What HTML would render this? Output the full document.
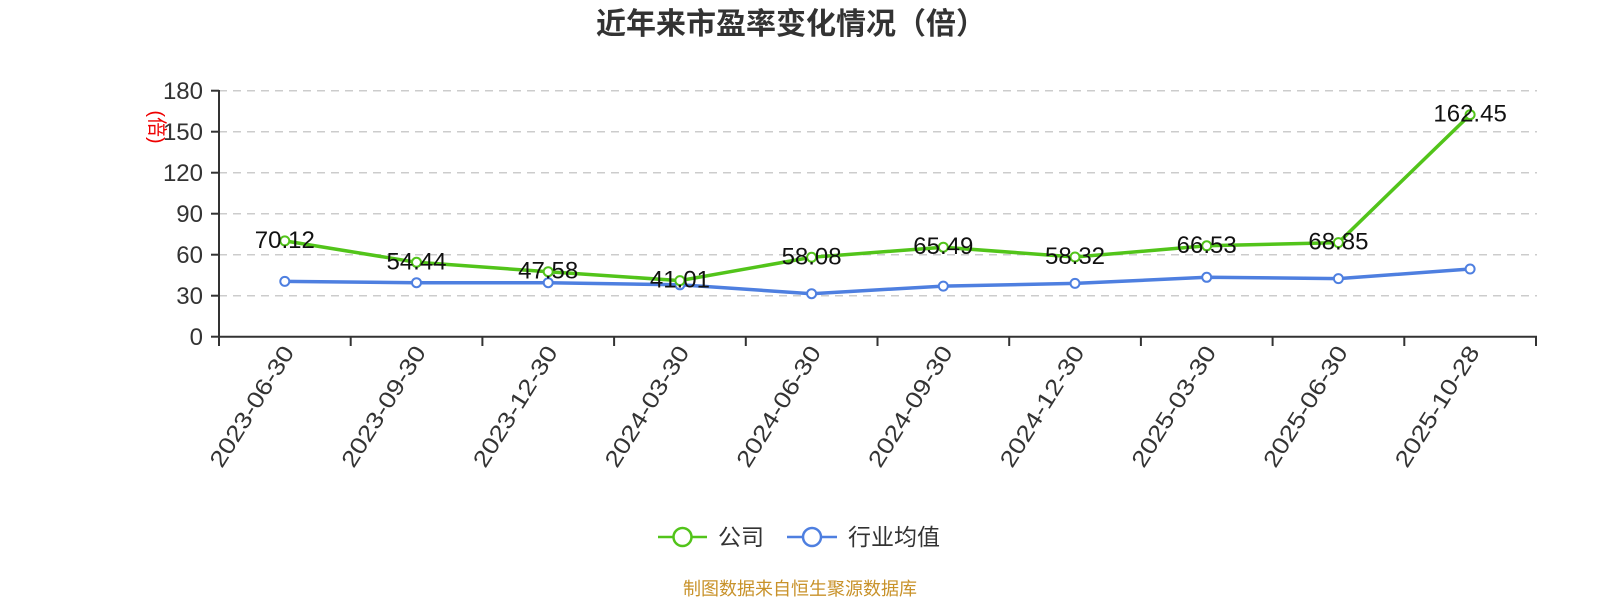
<!DOCTYPE html>
<html><head><meta charset="utf-8"><style>body{margin:0;background:#fff}svg{display:block}</style></head><body>
<svg width="1600" height="600" xmlns="http://www.w3.org/2000/svg" font-family="'Liberation Sans','Noto Sans CJK SC',sans-serif">
<text x="791" y="34" text-anchor="middle" font-size="30" font-weight="bold" fill="#333">近年来市盈率变化情况（倍）</text>
<g stroke="#ccc" stroke-width="1.5" stroke-dasharray="8,6">
<line x1="219" x2="1537" y1="90.7" y2="90.7"/><line x1="219" x2="1537" y1="131.7" y2="131.7"/><line x1="219" x2="1537" y1="172.7" y2="172.7"/><line x1="219" x2="1537" y1="213.7" y2="213.7"/><line x1="219" x2="1537" y1="254.7" y2="254.7"/><line x1="219" x2="1537" y1="295.7" y2="295.7"/>
</g>
<g stroke="#333" stroke-width="2">
<line x1="219" y1="90" x2="219" y2="337"/><line x1="219" y1="336.7" x2="1537" y2="336.7"/>
<line x1="211" x2="219" y1="90.7" y2="90.7"/><line x1="211" x2="219" y1="131.7" y2="131.7"/><line x1="211" x2="219" y1="172.7" y2="172.7"/><line x1="211" x2="219" y1="213.7" y2="213.7"/><line x1="211" x2="219" y1="254.7" y2="254.7"/><line x1="211" x2="219" y1="295.7" y2="295.7"/><line x1="211" x2="219" y1="336.7" y2="336.7"/>
<line x1="219" x2="219" y1="337" y2="346"/><line x1="350.7" x2="350.7" y1="337" y2="346"/><line x1="482.4" x2="482.4" y1="337" y2="346"/><line x1="614.1" x2="614.1" y1="337" y2="346"/><line x1="745.8" x2="745.8" y1="337" y2="346"/><line x1="877.5" x2="877.5" y1="337" y2="346"/><line x1="1009.2" x2="1009.2" y1="337" y2="346"/><line x1="1140.9" x2="1140.9" y1="337" y2="346"/><line x1="1272.6" x2="1272.6" y1="337" y2="346"/><line x1="1404.3" x2="1404.3" y1="337" y2="346"/><line x1="1536" x2="1536" y1="337" y2="346"/>
</g>
<g font-size="24" fill="#333" text-anchor="end">
<text x="203" y="99">180</text><text x="203" y="140">150</text><text x="203" y="181">120</text><text x="203" y="222">90</text><text x="203" y="263">60</text><text x="203" y="304">30</text><text x="203" y="345">0</text>
</g>
<text transform="translate(150,127) rotate(90)" font-size="20" fill="#e00" text-anchor="middle">(倍)</text>
<g font-size="23" fill="#333" text-anchor="end">
<text transform="translate(295,352) rotate(-58)" textLength="138" lengthAdjust="spacingAndGlyphs">2023-06-30</text>
<text transform="translate(426.7,352) rotate(-58)" textLength="138" lengthAdjust="spacingAndGlyphs">2023-09-30</text>
<text transform="translate(558.4,352) rotate(-58)" textLength="138" lengthAdjust="spacingAndGlyphs">2023-12-30</text>
<text transform="translate(690.1,352) rotate(-58)" textLength="138" lengthAdjust="spacingAndGlyphs">2024-03-30</text>
<text transform="translate(821.8,352) rotate(-58)" textLength="138" lengthAdjust="spacingAndGlyphs">2024-06-30</text>
<text transform="translate(953.5,352) rotate(-58)" textLength="138" lengthAdjust="spacingAndGlyphs">2024-09-30</text>
<text transform="translate(1085.2,352) rotate(-58)" textLength="138" lengthAdjust="spacingAndGlyphs">2024-12-30</text>
<text transform="translate(1216.9,352) rotate(-58)" textLength="138" lengthAdjust="spacingAndGlyphs">2025-03-30</text>
<text transform="translate(1348.6,352) rotate(-58)" textLength="138" lengthAdjust="spacingAndGlyphs">2025-06-30</text>
<text transform="translate(1480.3,352) rotate(-58)" textLength="138" lengthAdjust="spacingAndGlyphs">2025-10-28</text>
</g>
<polyline fill="none" stroke="#4e7fe0" stroke-width="3.5" points="284.8,281.4 416.5,282.7 548.2,282.7 679.9,284.8 811.6,293.7 943.3,286.1 1075,283.4 1206.7,277.3 1338.4,278.6 1470.1,269"/>
<g fill="#fff" stroke="#4e7fe0" stroke-width="2">
<circle cx="284.8" cy="281.4" r="4.5"/><circle cx="416.5" cy="282.7" r="4.5"/><circle cx="548.2" cy="282.7" r="4.5"/><circle cx="679.9" cy="284.8" r="4.5"/><circle cx="811.6" cy="293.7" r="4.5"/><circle cx="943.3" cy="286.1" r="4.5"/><circle cx="1075" cy="283.4" r="4.5"/><circle cx="1206.7" cy="277.3" r="4.5"/><circle cx="1338.4" cy="278.6" r="4.5"/><circle cx="1470.1" cy="269" r="4.5"/>
</g>
<polyline fill="none" stroke="#52c41a" stroke-width="3.5" points="284.8,240.9 416.5,262.3 548.2,271.7 679.9,280.6 811.6,257.3 943.3,247.2 1075,257 1206.7,245.8 1338.4,242.6 1470.1,114.7"/>
<g fill="#fff" stroke="#52c41a" stroke-width="2">
<circle cx="284.8" cy="240.9" r="4.5"/><circle cx="416.5" cy="262.3" r="4.5"/><circle cx="548.2" cy="271.7" r="4.5"/><circle cx="679.9" cy="280.6" r="4.5"/><circle cx="811.6" cy="257.3" r="4.5"/><circle cx="943.3" cy="247.2" r="4.5"/><circle cx="1075" cy="257" r="4.5"/><circle cx="1206.7" cy="245.8" r="4.5"/><circle cx="1338.4" cy="242.6" r="4.5"/><circle cx="1470.1" cy="114.7" r="4.5"/>
</g>
<g font-size="24" fill="#111" text-anchor="middle">
<text x="284.8" y="247.9">70.12</text><text x="416.5" y="269.3">54.44</text><text x="548.2" y="278.7">47.58</text><text x="679.9" y="287.6">41.01</text><text x="811.6" y="264.3">58.08</text><text x="943.3" y="254.2">65.49</text><text x="1075" y="264">58.32</text><text x="1206.7" y="252.8">66.53</text><text x="1338.4" y="249.6">68.85</text><text x="1470.1" y="121.7">162.45</text>
</g>
<line x1="658" x2="707" y1="537" y2="537" stroke="#52c41a" stroke-width="2.5"/>
<circle cx="682.5" cy="537" r="9" fill="#fff" stroke="#52c41a" stroke-width="2.5"/>
<text x="718" y="545" font-size="23" fill="#333">公司</text>
<line x1="787" x2="837" y1="537" y2="537" stroke="#4e7fe0" stroke-width="2.5"/>
<circle cx="812" cy="537" r="9" fill="#fff" stroke="#4e7fe0" stroke-width="2.5"/>
<text x="848" y="545" font-size="23" fill="#333">行业均值</text>
<text x="800" y="595" font-size="18" fill="#c8922a" text-anchor="middle">制图数据来自恒生聚源数据库</text>
</svg>
</body></html>
